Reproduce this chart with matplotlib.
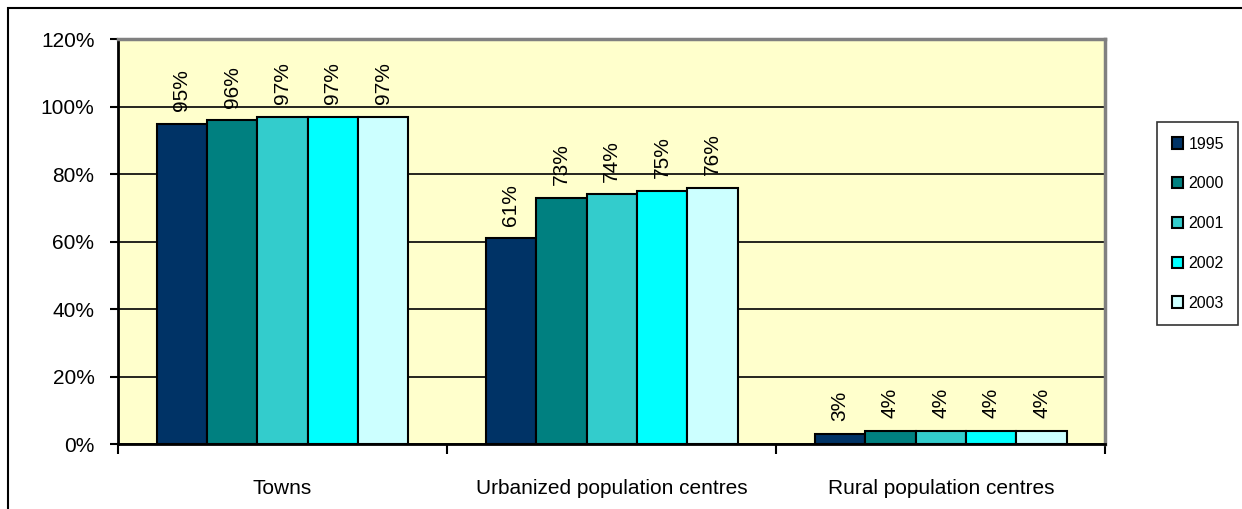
import numpy as np
import matplotlib
matplotlib.use("Agg")
import matplotlib.pyplot as plt
from matplotlib.patches import Rectangle

categories = ["Towns", "Urbanized population centres", "Rural population centres"]
years = ["1995", "2000", "2001", "2002", "2003"]
values = {
    "1995": [95, 61, 3],
    "2000": [96, 73, 4],
    "2001": [97, 74, 4],
    "2002": [97, 75, 4],
    "2003": [97, 76, 4],
}
colors = ["#003366", "#008080", "#33CCCC", "#00FFFF", "#CCFFFF"]

plt.rcParams["font.family"] = ["Liberation Sans", "DejaVu Sans"]
fs = 15

fig = plt.figure(figsize=(12.42, 5.09), dpi=100)
ax = fig.add_axes([0.095, 0.1277, 0.795, 0.7953])
ax.set_facecolor("#FFFFCC")

# outer chart frame (only top and left visible in the picture)
fig.patches.append(Rectangle((8 / 1242, -0.1), 1.2, 1 - 8 / 509 + 0.1, transform=fig.transFigure,
                             fill=False, edgecolor="black", linewidth=1.5, zorder=0))

x = np.arange(len(categories))
w = 0.153
for i, yr in enumerate(years):
    pos = x + (i - 2) * w
    ax.bar(pos, values[yr], w, color=colors[i], edgecolor="black", linewidth=1.5,
           label=yr, zorder=3)
    for xp, v in zip(pos, values[yr]):
        ax.annotate(f"{v}%", (xp, v), xytext=(0, 9), textcoords="offset points",
                    rotation=90, ha="center", va="bottom", fontsize=fs, zorder=4)

ax.set_xlim(-0.5, 2.5)
ax.set_ylim(0, 120)
ax.set_yticks(np.arange(0, 121, 20))
ax.set_yticklabels([f"{t}%" for t in range(0, 121, 20)], fontsize=fs)
ax.yaxis.grid(True, color="black", linewidth=1.2, zorder=1)
ax.set_axisbelow(True)

ax.set_xticks(x)
ax.set_xticklabels(categories, fontsize=fs)
ax.tick_params(axis="x", which="major", length=0, pad=25)
ax.set_xticks([-0.5, 0.5, 1.5, 2.5], minor=True)
ax.tick_params(axis="x", which="minor", length=7, width=1.5, direction="out")
ax.tick_params(axis="y", length=6, width=1.5, direction="out", pad=11)

ax.spines["top"].set_color("#808080")
ax.spines["top"].set_linewidth(2.5)
ax.spines["right"].set_color("#808080")
ax.spines["right"].set_linewidth(2.5)
ax.spines["left"].set_linewidth(2)
ax.spines["bottom"].set_linewidth(2)

leg = ax.legend(loc="upper left", bbox_to_anchor=(1.0527, 0.795), fontsize=11.5,
                frameon=True, fancybox=False, edgecolor="black", handlelength=0.7,
                handleheight=0.7, handletextpad=0.35, labelspacing=1.55, borderpad=0.9,
                borderaxespad=0)
leg.get_frame().set_linewidth(1.2)

fig.savefig("out.png", dpi=100)
